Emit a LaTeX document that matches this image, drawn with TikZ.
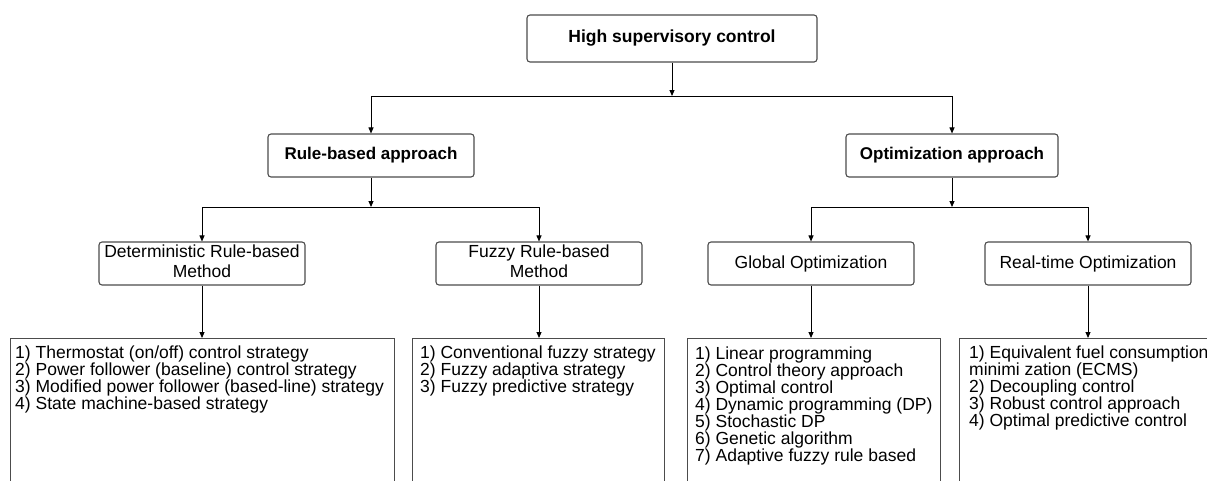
\documentclass[tikz,border=0pt]{standalone}
\usepackage{fontspec}
\setmainfont{Liberation Sans}
\usetikzlibrary{arrows.meta}
\newcommand{\twoline}[2]{\raisebox{-3pt}{\begin{tabular}{@{}c@{}}#1\\#2\end{tabular}}}
\begin{document}
\begin{tikzpicture}[x=1pt,y=-1pt,
  conn/.style={draw=black,line width=0.9pt},
  arr/.style={conn,-{Triangle[length=6pt,width=5pt]}},
  headbox/.style={draw=black!70,line width=1.1pt,rounded corners=3pt,minimum height=47pt,inner sep=0pt,
    font=\fontsize{17.5}{20}\selectfont\bfseries},
  midbox/.style={draw=black!70,line width=1.1pt,rounded corners=3pt,minimum height=43pt,inner sep=0pt,
    font=\fontsize{17}{20}\selectfont\bfseries},
  methbox/.style={draw=black!70,line width=1.1pt,rounded corners=3pt,minimum width=206pt,minimum height=43pt,inner sep=0pt,align=center,
    font=\fontsize{17.5}{20.5}\selectfont},
  listbox/.style={draw=black!70,line width=1.1pt,inner sep=0pt,anchor=north west},
  listtext/.style={anchor=north west,align=left,inner sep=0pt,font=\fontsize{17.5}{17}\selectfont}
]
\useasboundingbox (0,0) rectangle (1207,480);
\clip (0,0) rectangle (1207,480);
% level 1
\node[headbox,minimum width=290pt] (top) at (672,38.5) {High supervisory control};
% level 2
\node[midbox,minimum width=206pt] (rule) at (371,155.5) {Rule-based approach};
\node[midbox,minimum width=212pt] (opt) at (952,155.5) {Optimization approach};
% level 3
\node[methbox] (det) at (202,263.5) {\twoline{Deterministic Rule-based}{Method}};
\node[methbox] (fuz) at (539,263.5) {\twoline{Fuzzy Rule-based}{Method}};
\node[methbox] (glo) at (811,263.5) {Global Optimization};
\node[methbox] (rt) at (1088,263.5) {Real-time Optimization};
% level 4 boxes
\node[listbox,minimum width=384pt,minimum height=170pt] (detl) at (10,338) {};
\node[listbox,minimum width=252pt,minimum height=170pt] (fuzl) at (412,338) {};
\node[listbox,minimum width=253pt,minimum height=170pt] (glol) at (687,338) {};
\node[listbox,minimum width=262pt,minimum height=170pt] (rtl) at (959,338) {};
\node[listtext] (dett) at (15,346) {1) Thermostat (on/off) control strategy\\2) Power follower (baseline) control strategy\\3) Modified power follower (based-line) strategy\\4) State machine-based strategy};
\node[listtext] (fuzt) at (420,346) {1) Conventional fuzzy strategy\\2) Fuzzy adaptiva strategy\\3) Fuzzy predictive strategy};
\node[listtext] (glot) at (695,347) {1) Linear programming\\2) Control theory approach\\3) Optimal control\\4) Dynamic programming (DP)\\5) Stochastic DP\\6) Genetic algorithm\\7) Adaptive fuzzy rule based};
\node[listtext] (rtt) at (969,346) {1) Equivalent fuel consumption\\minimi zation (ECMS)\\2) Decoupling control\\3) Robust control approach\\4) Optimal predictive control};
% junction coordinates
\coordinate (j1) at (672,96);
\coordinate (j2) at (371,207);
\coordinate (j3) at (952,207);
% connectors level 1 -> 2
\draw[arr] (top.south) -- (j1);
\draw[conn] (rule.north |- j1) -- (opt.north |- j1);
\draw[arr] (rule.north |- j1) -- (rule.north);
\draw[arr] (opt.north |- j1) -- (opt.north);
% level 2 -> 3
\draw[arr] (rule.south) -- (j2);
\draw[conn] (det.north |- j2) -- (fuz.north |- j2);
\draw[arr] (det.north |- j2) -- (det.north);
\draw[arr] (fuz.north |- j2) -- (fuz.north);
\draw[arr] (opt.south) -- (j3);
\draw[conn] (glo.north |- j3) -- (rt.north |- j3);
\draw[arr] (glo.north |- j3) -- (glo.north);
\draw[arr] (rt.north |- j3) -- (rt.north);
% level 3 -> 4
\draw[arr] (det.south) -- (det.south |- detl.north);
\draw[arr] (fuz.south) -- (fuz.south |- fuzl.north);
\draw[arr] (glo.south) -- (glo.south |- glol.north);
\draw[arr] (rt.south) -- (rt.south |- rtl.north);
\end{tikzpicture}
\end{document}
